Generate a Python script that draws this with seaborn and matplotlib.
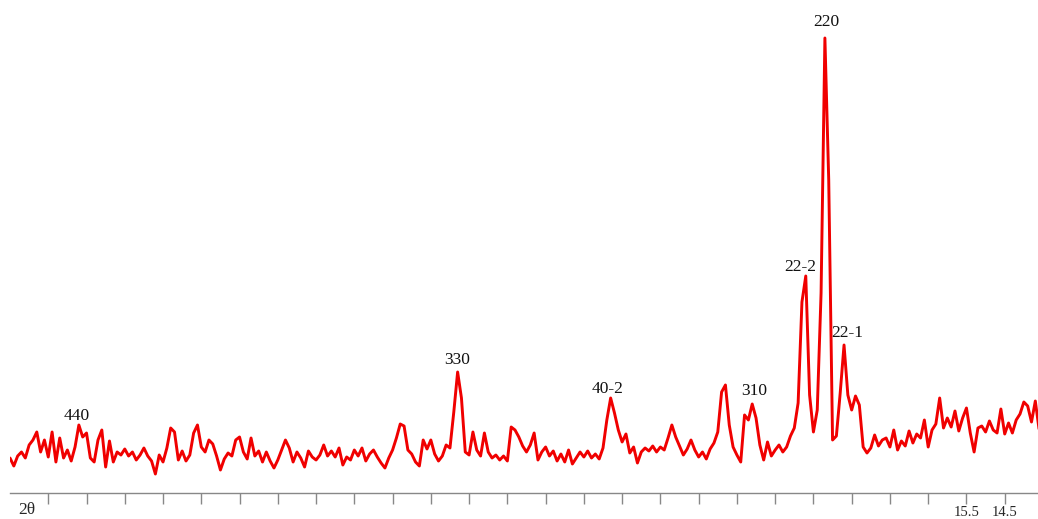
import numpy as np
import matplotlib
matplotlib.use('Agg')

import matplotlib.pyplot as plt
import seaborn as sns

# scan settings (2theta, degrees) - axis runs high -> low
scan_start = 40.5
scan_step = 0.1

# intensity (a.u.), one value per scan step
intensity = [
    35, 27, 37, 41, 35, 48, 53, 61, 41, 53, 36, 61, 31, 55, 35, 43, 32, 46, 68, 56,
    60, 35, 31, 53, 63, 26, 52, 31, 41, 38, 44, 37, 41, 33, 38, 45, 37, 32, 19, 38,
    31, 45, 65,
    61, 33, 42, 32, 38, 60, 68, 46, 41, 53, 49, 37, 23, 34, 40, 37, 53, 56, 41, 34,
    55, 37, 42, 31, 41, 32, 25, 33, 43, 53, 45, 31, 41, 35, 26, 42, 36, 33, 38, 48,
    37, 42, 36, 45, 28, 36,
    33, 43, 37, 45, 32, 39, 43, 36, 30, 25, 35, 43, 55, 69, 67, 43, 39, 31, 27, 53,
    44, 53, 39, 32, 37, 48, 45, 81, 121, 95, 41, 38, 61, 43, 37, 60, 41, 35, 38, 33,
    37, 32, 66, 63, 56, 47,
    41, 48, 60, 33, 41, 46, 37, 42, 32, 39, 31, 43, 29, 35, 41, 36, 42, 35, 39, 34,
    45, 73, 95, 80, 63, 51, 59, 40, 46, 30, 41, 45, 42, 47, 41, 46, 43, 55, 68, 56,
    47, 38, 44, 53, 43, 36,
    41, 34, 44, 50, 61, 101, 108, 68, 46, 38, 31, 78, 73, 89, 75, 48, 33, 51, 37, 43,
    48, 41, 46, 57, 65, 90, 191, 217, 98, 61, 83, 200, 455, 313, 53, 57, 100, 148, 98, 83,
    97, 88, 46, 40, 45,
    58, 47, 53, 55, 46, 63, 43, 52, 47, 62, 50, 59, 55, 73, 46, 63, 69, 95, 65, 75,
    66, 82, 62, 75, 85, 60, 41, 65, 67, 61, 72, 63, 60, 84, 59, 70, 60, 73, 79, 91,
    87, 71, 92, 63,
]

two_theta = np.round(scan_start - scan_step * np.arange(len(intensity)), 2)

# reflection labels
peak_labels = ["440", "330", "40-2", "310", "22-2", "220", "22-1"]
peak_label_x = [38.75, 28.82, 24.87, 21.06, 19.85, 19.17, 18.62]
peak_label_y = [77, 133, 104, 102, 226, 471, 160]

tick_values = [39.5, 38.5, 37.5, 36.5, 35.5, 34.5, 33.5, 32.5, 31.5, 30.5, 29.5,
               28.5, 27.5, 26.5, 25.5, 24.5, 23.5, 22.5, 21.5, 20.5, 19.5, 18.5,
               17.5, 16.5, 15.5, 14.5]
tick_labels = [""] * 24 + ["15.5", "14.5"]


def main():
    sns.set_style("white")
    plt.rcParams['font.family'] = ['Liberation Serif', 'DejaVu Serif']

    fig = plt.figure(figsize=(10.38, 5.19), dpi=100)
    ax = fig.add_axes([10 / 1038, 26 / 519, 1028 / 1038, 493 / 519])

    sns.lineplot(x=two_theta, y=intensity, ax=ax, color='#f00000', linewidth=2.1, sort=False)

    for label, x, y in zip(peak_labels, peak_label_x, peak_label_y):
        ax.text(x, y, label, ha='center', va='center', fontsize=12.5, color='#111111')

    ax.set_xlim(40.5, 13.63)
    ax.set_ylim(0, 493)
    ax.set_yticks([])
    ax.set_xticks(tick_values)
    ax.set_xticklabels(tick_labels, fontsize=10.5)
    ax.tick_params(axis='x', direction='out', length=8, width=1, color='#888888',
                   pad=1, bottom=True)
    ax.set_xlabel("")
    ax.set_ylabel("")

    for side in ['top', 'right', 'left']:
        ax.spines[side].set_visible(False)
    ax.spines['bottom'].set_color('#888888')
    ax.spines['bottom'].set_linewidth(1)

    fig.text(18 / 1038, (519 - 510) / 519, "2θ", ha='left', va='center', fontsize=12.5)

    fig.savefig("out.png", dpi=100)


if __name__ == '__main__':
    main()
